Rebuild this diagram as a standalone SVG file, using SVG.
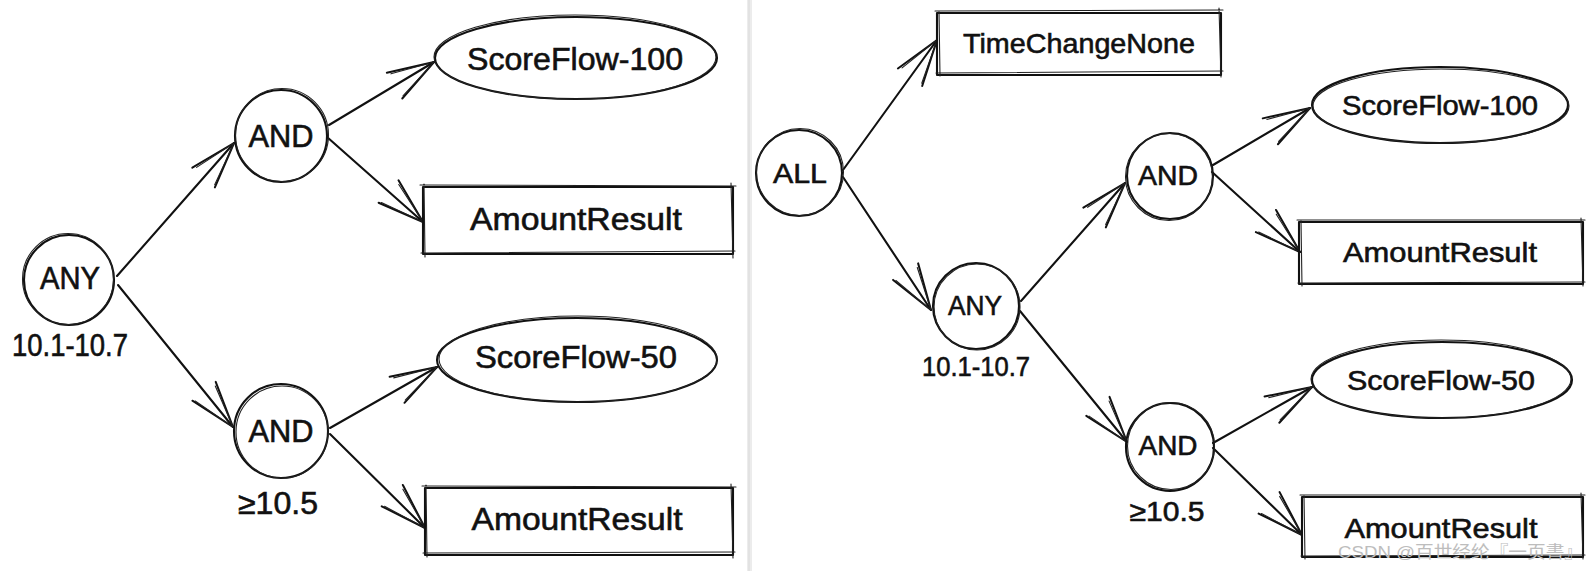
<svg xmlns="http://www.w3.org/2000/svg" width="1593" height="571" viewBox="0 0 1593 571">
<style>
.bg{fill:#ffffff}
.sh{fill:none;stroke:#111;stroke-width:2.1;stroke-linejoin:round;stroke-linecap:round}
.sk{fill:none;stroke:#222;stroke-width:1.1;stroke-linecap:round}
.cn{fill:none;stroke:#111;stroke-width:2.1;stroke-linecap:round}
.t{font-family:"Liberation Sans","DejaVu Sans",sans-serif;fill:#111;stroke:#111;stroke-width:0.6;text-anchor:middle}
.tl{font-size:31px}
.tr{font-size:28px}
.wm{font-family:"Liberation Sans","Noto Sans CJK SC",sans-serif;font-size:17px;fill:#bdbdbd}
</style>
<defs>
<marker id="ah" markerUnits="userSpaceOnUse" viewBox="-55 -22 60 44" markerWidth="60" markerHeight="44" refX="0" refY="0" orient="auto" overflow="visible">
<path d="M-46,-15 L0,0 L-46,15" fill="none" stroke="#111" stroke-width="2" stroke-linecap="round" stroke-linejoin="round"/>
<path d="M-43,-12 L0,0 M-44,13 L0,0" fill="none" stroke="#222" stroke-width="1.1" stroke-linecap="round"/>
</marker>
</defs>
<rect class="bg" x="0" y="0" width="1593" height="571"/>
<rect x="747" y="0" width="5" height="571" fill="#ececec"/>
<rect x="748" y="0" width="2" height="571" fill="#e2e2e2"/>

<g id="connectors">
<path class="cn" d="M117,276 L234,143" marker-end="url(#ah)"/>
<path class="cn" d="M118,285 L233,427" marker-end="url(#ah)"/>
<path class="cn" d="M329,125 L434,62" marker-end="url(#ah)"/>
<path class="cn" d="M327,137 L423,222" marker-end="url(#ah)"/>
<path class="cn" d="M330,428 L437,367" marker-end="url(#ah)"/>
<path class="cn" d="M330,434 L425,528" marker-end="url(#ah)"/>
<path class="cn" d="M843,170 L937,40" marker-end="url(#ah)"/>
<path class="cn" d="M843,177 L931,310" marker-end="url(#ah)"/>
<path class="cn" d="M1021,301 L1125,183" marker-end="url(#ah)"/>
<path class="cn" d="M1020,311 L1127,442" marker-end="url(#ah)"/>
<path class="cn" d="M1213,165 L1310,108" marker-end="url(#ah)"/>
<path class="cn" d="M1212,172 L1300,252" marker-end="url(#ah)"/>
<path class="cn" d="M1213,443 L1312,387" marker-end="url(#ah)"/>
<path class="cn" d="M1213,448 L1302,535" marker-end="url(#ah)"/>
</g>

<g id="any-left">
<circle class="sh" cx="69" cy="280" r="45"/>
<circle class="sk" cx="68" cy="279" r="45.5"/>
<text class="t tl" x="70" y="289" textLength="60" lengthAdjust="spacingAndGlyphs">ANY</text>
<text class="t tl" x="70" y="356" font-size="29" textLength="116" lengthAdjust="spacingAndGlyphs">10.1-10.7</text>
</g>
<g id="and-left-top">
<circle class="sh" cx="281" cy="136" r="46"/>
<circle class="sk" cx="282" cy="135" r="46.5"/>
<text class="t tl" x="281" y="147" textLength="65" lengthAdjust="spacingAndGlyphs">AND</text>
</g>
<g id="and-left-bottom">
<circle class="sh" cx="281" cy="431" r="47"/>
<circle class="sk" cx="282" cy="432" r="46"/>
<text class="t tl" x="281" y="442" textLength="65" lengthAdjust="spacingAndGlyphs">AND</text>
<text class="t tl" x="278" y="514" font-size="29" textLength="80" lengthAdjust="spacingAndGlyphs">≥10.5</text>
</g>
<g id="scoreflow100-left">
<ellipse class="sh" cx="576" cy="58" rx="141" ry="41"/>
<ellipse class="sk" cx="575" cy="57" rx="141" ry="42"/>
<text class="t tl" x="575" y="70" textLength="216" lengthAdjust="spacingAndGlyphs">ScoreFlow-100</text>
</g>
<g id="amount-left-top">
<rect class="sh" x="423" y="187" width="310" height="67"/>
<path class="sk" d="M420,185 L736,186 M731,183 L733,258 M421,253 L735,251 M424,184 L425,257"/>
<text class="t tl" x="576" y="230" textLength="212" lengthAdjust="spacingAndGlyphs">AmountResult</text>
</g>
<g id="scoreflow50-left">
<ellipse class="sh" cx="577" cy="360" rx="140" ry="42"/>
<ellipse class="sk" cx="578" cy="359" rx="139" ry="43"/>
<text class="t tl" x="576" y="368" textLength="202" lengthAdjust="spacingAndGlyphs">ScoreFlow-50</text>
</g>
<g id="amount-left-bottom">
<rect class="sh" x="425" y="488" width="308" height="67"/>
<path class="sk" d="M422,486 L736,487 M731,484 L733,558 M423,553 L735,552 M426,485 L427,557"/>
<text class="t tl" x="577" y="530" textLength="211" lengthAdjust="spacingAndGlyphs">AmountResult</text>
</g>

<g id="timechangenone">
<rect class="sh" x="937" y="13" width="284" height="62"/>
<path class="sk" d="M935,11 L1223,10 M1219,8 L1221,77 M936,73 L1223,71 M939,12 L940,76"/>
<text class="t tr" x="1079" y="53" textLength="232" lengthAdjust="spacingAndGlyphs">TimeChangeNone</text>
</g>
<g id="all">
<circle class="sh" cx="799" cy="173" r="43"/>
<circle class="sk" cx="800" cy="172" r="43.5"/>
<text class="t tr" x="800" y="183" textLength="54" lengthAdjust="spacingAndGlyphs">ALL</text>
</g>
<g id="any-right">
<circle class="sh" cx="976" cy="306" r="43"/>
<circle class="sk" cx="977" cy="307" r="43"/>
<text class="t tr" x="975" y="315" textLength="54" lengthAdjust="spacingAndGlyphs">ANY</text>
<text class="t tr" x="976" y="376" font-size="27" textLength="108" lengthAdjust="spacingAndGlyphs">10.1-10.7</text>
</g>
<g id="and-right-top">
<circle class="sh" cx="1170" cy="176" r="43"/>
<circle class="sk" cx="1169" cy="177" r="43.5"/>
<text class="t tr" x="1168" y="185" textLength="60" lengthAdjust="spacingAndGlyphs">AND</text>
</g>
<g id="and-right-bottom">
<circle class="sh" cx="1170" cy="447" r="44"/>
<circle class="sk" cx="1171" cy="446" r="43.5"/>
<text class="t tr" x="1168" y="455" textLength="59" lengthAdjust="spacingAndGlyphs">AND</text>
<text class="t tr" x="1167" y="521" font-size="27" textLength="75" lengthAdjust="spacingAndGlyphs">≥10.5</text>
</g>
<g id="scoreflow100-right">
<ellipse class="sh" cx="1440" cy="105" rx="128" ry="38"/>
<ellipse class="sk" cx="1441" cy="106" rx="128" ry="37"/>
<text class="t tr" x="1440" y="115" textLength="196" lengthAdjust="spacingAndGlyphs">ScoreFlow-100</text>
</g>
<g id="amount-right-top">
<rect class="sh" x="1299" y="222" width="284" height="62"/>
<path class="sk" d="M1297,220 L1585,220 M1581,218 L1583,286 M1298,283 L1585,282 M1301,221 L1302,286"/>
<text class="t tr" x="1440" y="262" textLength="194" lengthAdjust="spacingAndGlyphs">AmountResult</text>
</g>
<g id="scoreflow50-right">
<ellipse class="sh" cx="1442" cy="380" rx="130" ry="38"/>
<ellipse class="sk" cx="1441" cy="379" rx="130" ry="39"/>
<text class="t tr" x="1441" y="390" textLength="188" lengthAdjust="spacingAndGlyphs">ScoreFlow-50</text>
</g>
<g id="amount-right-bottom">
<rect class="sh" x="1302" y="497" width="281" height="60"/>
<path class="sk" d="M1300,495 L1585,495 M1581,493 L1583,559 M1301,556 L1585,555 M1304,496 L1305,559"/>
<text class="t tr" x="1441" y="538" textLength="193" lengthAdjust="spacingAndGlyphs">AmountResult</text>
</g>

<text class="wm" x="1338" y="558" textLength="245" lengthAdjust="spacingAndGlyphs">CSDN @百世经纶『一页書』</text>
</svg>
